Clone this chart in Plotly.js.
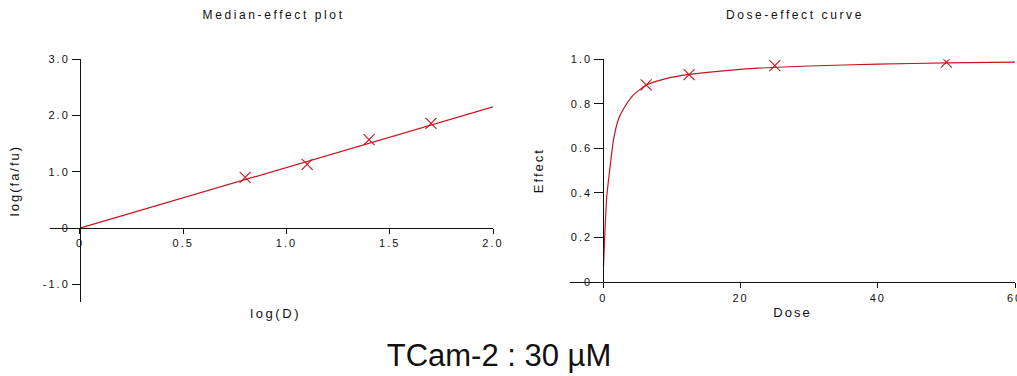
<!DOCTYPE html>
<html>
<head>
<meta charset="utf-8">
<script src="https://cdn.plot.ly/plotly-3.0.1.min.js"></script>
<style>
  html, body { margin: 0; padding: 0; background: #fff; }
  #chart { width: 1017px; height: 376px; }
  .main-svg text { letter-spacing: 2px; }
  .main-svg .annotation-text { letter-spacing: 2.6px; }
  .main-svg .gtitle { letter-spacing: 0px !important; }
</style>
</head>
<body>
<div id="chart"></div>
<script>
// ---- Median-effect plot (left) ----
const medLogD = [0.80, 1.10, 1.40, 1.70];
const medLogFaFu = [0.90, 1.13, 1.57, 1.86];
const medFitLogD = [0, 2.0];
const medFitLogFaFu = [0, 2.15];
const medXTicks = [0, 0.5, 1.0, 1.5, 2.0];
const medXTickText = ['0', '0.5', '1.0', '1.5', '2.0'];
const medYTicks = [-1, 0, 1, 2, 3];
const medYTickText = ['-1.0', '0', '1.0', '2.0', '3.0'];

// ---- Dose-effect curve (right) ----
const doses = [6.25, 12.5, 25, 50];
const effects = [0.885, 0.931, 0.972, 0.987];
const curveDose = [0.03, 0.2, 0.5, 1, 1.5, 2.2, 3, 4.4, 6.3, 9, 12.6, 20, 30, 40, 50, 60];
const curveEffect = [0.07, 0.2, 0.38, 0.52, 0.64, 0.73, 0.78, 0.84, 0.885, 0.912, 0.932, 0.955, 0.97, 0.978, 0.984, 0.987];
const doseXTicks = [0, 20, 40, 60];
const doseXTickText = ['0', '20', '40', '60'];
const effYTicks = [0, 0.2, 0.4, 0.6, 0.8, 1.0];
const effYTickText = ['0', '0.2', '0.4', '0.6', '0.8', '1.0'];

const titles = ['Median-effect plot', 'Dose-effect curve'];
const caption = 'TCam-2 : 30 µM';

const W = 1017, H = 376;
const px = v => v / W;          // horizontal pixel -> paper
const py = v => 1 - v / H;      // vertical pixel -> paper

const RED = '#c8141c';
const tickFont = { family: 'Liberation Sans, Arial, sans-serif', size: 11, color: '#111' };
const titleFont = { family: 'Liberation Sans, Arial, sans-serif', size: 13, color: '#111' };

const traces = [
  { x: medFitLogD, y: medFitLogFaFu, xaxis: 'x', yaxis: 'y', mode: 'lines',
    line: { color: RED, width: 1.2 }, showlegend: false, hoverinfo: 'skip' },
  { x: medLogD, y: medLogFaFu, xaxis: 'x', yaxis: 'y', mode: 'markers',
    marker: { symbol: 'x-thin-open', size: 11, color: RED, line: { color: RED, width: 1.1 } }, showlegend: false },
  { x: curveDose, y: curveEffect, xaxis: 'x2', yaxis: 'y2', mode: 'lines',
    line: { color: RED, width: 1.2, shape: 'spline', smoothing: 0.6 }, showlegend: false, hoverinfo: 'skip' },
  { x: doses, y: effects, xaxis: 'x2', yaxis: 'y2', mode: 'markers',
    marker: { symbol: 'x-thin-open', size: 11, color: RED, line: { color: RED, width: 1.1 } }, showlegend: false }
];

const axBase = {
  showgrid: false, zeroline: false, showline: true, linecolor: '#111', linewidth: 1,
  ticks: 'outside', tickcolor: '#111', tickwidth: 1, tickfont: tickFont, fixedrange: true,
  ticklabeloverflow: 'allow'
};

const layout = {
  width: W, height: H,
  margin: { l: 0, r: 0, t: 0, b: 0 },
  paper_bgcolor: '#fff', plot_bgcolor: 'rgba(0,0,0,0)',
  title: { text: caption, font: { family: 'Liberation Sans, Arial, sans-serif', size: 31, color: '#111' },
           x: px(499), xanchor: 'center', y: py(355), yanchor: 'middle', xref: 'paper', yref: 'container' },
  xaxis: Object.assign({}, axBase, {
    domain: [px(50), px(493)], range: [-0.145, 2.0],
    anchor: 'free', position: py(228),
    tickmode: 'array', tickvals: medXTicks, ticktext: medXTickText, ticklen: 5
  }),
  yaxis: Object.assign({}, axBase, {
    domain: [py(302), py(59)], range: [-1.31, 3.0],
    anchor: 'free', position: px(80),
    tickmode: 'array', tickvals: medYTicks, ticktext: medYTickText, ticklen: 8,
    title: { text: 'log(fa/fu)', font: titleFont, standoff: 27 }
  }),
  xaxis2: Object.assign({}, axBase, {
    domain: [px(570), px(1015)], range: [-4.85, 60],
    anchor: 'y2',
    tickmode: 'array', tickvals: doseXTicks, ticktext: doseXTickText, ticklen: 5,
    ticklabelstandoff: 1,
    title: { text: 'Dose', font: titleFont, standoff: 4 }
  }),
  yaxis2: Object.assign({}, axBase, {
    domain: [py(282), py(59.3)], range: [0, 1.0],
    anchor: 'free', position: px(603.3),
    tickmode: 'array', tickvals: effYTicks, ticktext: effYTickText, ticklen: 9,
    title: { text: 'Effect', font: titleFont, standoff: 29 }
  }),
  annotations: [
    { text: titles[0], xref: 'paper', yref: 'paper', x: px(274), y: py(15), xanchor: 'center', yanchor: 'middle',
      showarrow: false, font: { family: 'Liberation Sans, Arial, sans-serif', size: 12, color: '#111' } },
    { text: titles[1], xref: 'paper', yref: 'paper', x: px(795), y: py(15), xanchor: 'center', yanchor: 'middle',
      showarrow: false, font: { family: 'Liberation Sans, Arial, sans-serif', size: 12, color: '#111' } },
    { text: 'log(D)', xref: 'paper', yref: 'paper', x: px(275), y: py(313), xanchor: 'center', yanchor: 'middle',
      showarrow: false, font: titleFont }
  ]
};

Plotly.newPlot('chart', traces, layout, { displayModeBar: false, staticPlot: true });
</script>
</body>
</html>
